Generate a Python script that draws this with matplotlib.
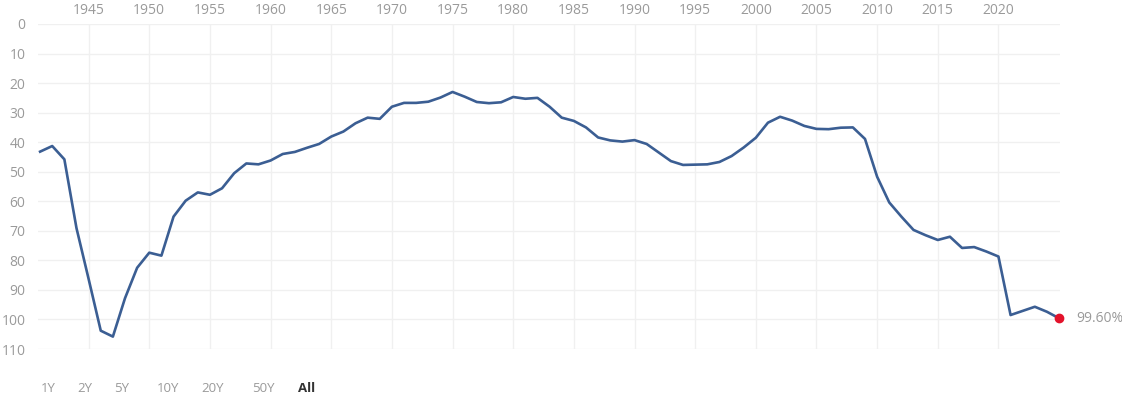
#!/usr/bin/env python3
import matplotlib
matplotlib.use("Agg")
import matplotlib.pyplot as plt
import numpy as np

# debt-to-GDP style series, one point per year (as drawn in the reference)
years = list(range(1941, 2026))
values = [43.2, 41.3, 45.8, 69.1, 86.3, 103.8, 105.8, 92.8, 82.5, 77.4,
          78.4, 65.2, 59.8, 57.0, 57.8, 55.6, 50.5, 47.2, 47.5, 46.2,
          44.0, 43.3, 41.9, 40.6, 38.1, 36.4, 33.6, 31.7, 32.1, 28.0,
          26.7, 26.7, 26.3, 24.9, 23.0, 24.6, 26.4, 26.8, 26.5, 24.7,
          25.3, 25.0, 28.0, 31.7, 32.8, 35.0, 38.4, 39.4, 39.8, 39.3,
          40.6, 43.5, 46.4, 47.7, 47.6, 47.5, 46.7, 44.7, 41.8, 38.5,
          33.4, 31.4, 32.7, 34.5, 35.5, 35.6, 35.1, 35.0, 38.9, 51.7,
          60.4, 65.2, 69.7, 71.5, 73.1, 72.0, 75.8, 75.5, 77.0, 78.7,
          98.5, 97.1, 95.7, 97.4, 99.6]
year_ticks = list(range(1945, 2021, 5))
value_ticks = list(range(0, 111, 10))
ranges = ["1Y", "2Y", "5Y", "10Y", "20Y", "50Y", "All"]

plt.rcParams['font.family'] = ['Open Sans', 'DejaVu Sans']
grey = '#9a9a9a'

fig = plt.figure(figsize=(11.22, 3.98), dpi=100)
ax = fig.add_axes([0.0339, 0.1231, 0.9109, 0.8166])

ax.plot(years, values, color='#3b5e93', lw=1.9, solid_joinstyle='round')
ax.plot(years[-1], values[-1], 'o', color='#e3122b', ms=6, zorder=5,
        clip_on=False)
ax.annotate(f"{values[-1]:.2f}%", (years[-1], values[-1]), xytext=(12, 0),
            textcoords='offset points', va='center', ha='left',
            color=grey, fontsize=10, annotation_clip=False)

ax.set_xlim(1940.83, 2025.08)
ax.set_ylim(110, 0)
ax.set_xticks(year_ticks)
ax.set_yticks(value_ticks)
ax.xaxis.tick_top()
ax.tick_params(axis='both', length=0, colors=grey, labelsize=10)
ax.tick_params(axis='x', pad=4)
ax.tick_params(axis='y', pad=9)
ax.grid(True, color='#f0f0f0', lw=1)
ax.set_axisbelow(True)
for s in ax.spines.values():
    s.set_visible(False)

# range selector buttons
btn_x = [48, 85, 122, 168, 213, 263, 307]
for lab, px in zip(ranges, btn_x):
    fig.text(px / 1122, 1 - 388 / 398, lab, ha='center', va='center',
             fontsize=9.5, color='#333333' if lab == "All" else grey,
             fontweight='bold' if lab == "All" else 'normal')

fig.savefig("out.png", dpi=100)
